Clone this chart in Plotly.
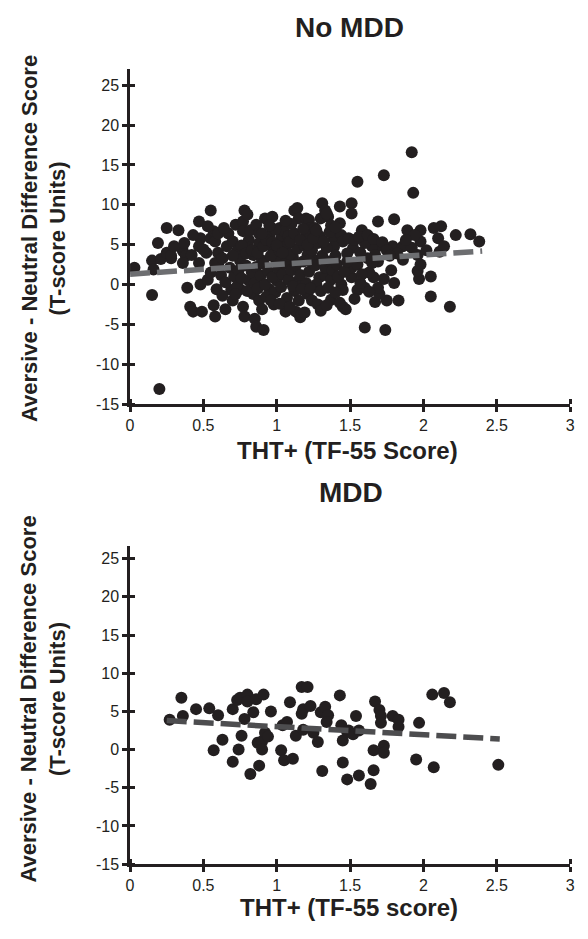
import plotly.graph_objects as go

# ---------------- data ----------------
no_mdd_tht = [
    0.03, 0.15, 0.21, 0.28, 0.16, 0.15, 0.20, 0.25, 0.33, 0.19,
    0.25, 0.28, 0.36, 0.38, 0.42, 0.37, 0.30, 0.48, 0.47, 0.55,
    0.47, 0.52, 0.55, 0.57, 0.58, 0.60, 0.60, 0.60, 0.36, 0.39,
    0.41, 0.43, 0.47, 0.49, 0.48, 0.53, 0.59, 0.58, 0.57, 0.58,
    0.65, 0.70, 0.69, 0.75, 0.77, 0.78, 0.85, 0.86, 0.91, 0.81,
    0.84, 0.88, 0.90, 0.95, 0.98, 1.00, 1.06, 1.13, 1.16, 1.12,
    1.21, 1.24, 1.37, 1.15, 1.44, 1.45, 0.66, 0.67, 0.72, 0.70,
    0.73, 0.75, 0.77, 0.78, 0.80, 0.77, 0.81, 0.82, 0.81, 0.84,
    0.86, 0.88, 0.88, 0.92, 0.94, 0.97, 0.95, 0.98, 1.02, 1.03,
    1.05, 1.07, 1.08, 1.12, 1.14, 1.15, 1.20, 1.22, 1.23, 1.26,
    1.29, 1.30, 1.31, 1.33, 1.35, 1.37, 1.43, 1.43, 1.39, 1.44,
    1.20, 1.11, 1.21, 1.25, 1.05, 1.00, 0.90, 1.92, 1.73, 1.55,
    1.93, 1.51, 1.51, 1.69, 1.80, 1.34, 1.89, 1.98, 2.12, 2.07,
    2.22, 2.32, 2.38, 2.10, 1.98, 1.94, 1.58, 1.69, 1.79, 1.86,
    1.65, 1.60, 1.52, 1.45, 1.39, 2.11, 1.96, 1.86, 1.69, 1.40,
    2.05, 1.97, 1.96, 1.98, 2.05, 2.18, 1.83, 1.75, 1.67, 1.70,
    1.69, 1.73, 1.66, 1.60, 1.74, 1.47, 1.43, 1.28, 1.17, 1.55,
    1.60, 1.57, 1.51, 1.45, 1.63, 1.51, 1.55, 1.65, 1.67, 1.29,
    1.33, 1.37, 1.33, 1.22, 1.20, 1.27, 1.82, 1.62, 1.48, 1.57,
    0.62, 0.65, 0.68, 0.71, 0.73, 0.74, 0.76, 0.79, 0.80, 0.83,
    0.85, 0.86, 0.87, 0.89, 0.91, 0.92, 0.93, 0.94, 0.96, 0.97,
    0.99, 1.01, 1.02, 1.03, 1.04, 1.06, 1.07, 1.08, 1.09, 1.10,
    1.11, 1.13, 1.14, 1.16, 1.17, 1.18, 1.19, 1.22, 1.23, 1.24,
    1.26, 1.28, 1.30, 1.31, 1.34, 1.35, 1.36, 1.38, 1.41, 1.42,
    1.46, 1.48, 1.49, 1.53, 1.56, 0.63, 0.70, 0.76, 0.79, 0.83,
    0.87, 0.91, 0.93, 0.97, 1.00, 1.04, 1.09, 1.12, 1.16, 1.18,
    1.21, 1.25, 1.27, 1.32, 1.36, 1.40, 1.10, 1.06, 0.99, 0.90,
    0.95, 0.64, 0.53, 0.43, 0.50, 1.62, 1.66, 1.72, 1.75, 1.77,
    1.58, 1.53, 1.63, 1.78, 1.80, 1.92, 2.02, 2.14, 1.88, 0.55,
    0.63, 0.72, 0.96, 1.02, 1.09, 1.15, 1.30, 1.34, 1.40, 1.19,
]
no_mdd_diff = [
    2.1, 3.0, 3.2, 3.3, 1.9, -1.3, -13.1, 7.1, 6.8, 5.2,
    4.0, 3.6, 4.2, 3.6, 3.7, 5.2, 4.8, 5.8, 7.9, 9.3,
    4.8, 4.0, 5.8, 6.7, 5.4, 6.4, 4.0, 2.5, 2.7, -0.4,
    -2.8, -3.4, 2.7, -3.4, 0.0, 0.6, -0.6, 2.7, -2.6, -4.0,
    -3.1, -2.0, -0.7, -0.6, -2.8, -4.0, -4.3, -5.3, -5.7, 0.5,
    -1.2, -2.0, -3.1, -0.6, -2.5, 0.5, -3.4, -3.4, -4.1, -0.8,
    -1.2, -2.0, -1.9, 0.5, 0.0, -2.8, 4.8, 6.4, 7.5, 5.4,
    4.2, 3.0, 7.9, 9.3, 8.8, 6.7, 5.6, 6.8, 4.6, 3.7,
    7.5, 6.4, 5.2, 8.3, 8.1, 8.5, 6.1, 4.3, 7.1, 5.8,
    6.7, 5.0, 6.1, 9.3, 9.6, 8.3, 8.3, 8.1, 7.1, 7.1,
    6.1, 8.3, 10.2, 9.3, 8.5, 7.4, 9.8, 7.7, 5.8, 6.2,
    6.1, 3.4, 3.7, 3.1, 3.1, 3.0, 3.0, 16.6, 13.7, 12.9,
    11.5, 10.2, 8.9, 7.9, 8.2, 8.9, 6.8, 6.8, 7.3, 7.1,
    6.2, 6.3, 5.4, 5.8, 5.4, 6.2, 6.8, 4.8, 4.8, 4.8,
    4.8, 5.2, 4.6, 5.4, 4.7, 4.1, 3.7, 3.1, 2.9, 3.6,
    1.0, 0.7, 1.7, 2.5, -1.5, -2.8, -2.0, -2.0, -2.2, -1.2,
    -0.4, 0.7, 0.9, -5.4, -5.7, -3.1, -2.3, -2.5, -3.7, -0.7,
    -0.4, 0.2, 0.9, -0.7, 1.5, 2.1, 2.5, 2.7, 3.7, 0.9,
    1.2, 0.6, 2.1, 3.0, 0.2, 0.0, 3.9, 3.3, 3.9, 4.0,
    1.2, 0.3, 2.1, 1.0, -0.2, 1.8, 0.8, 2.4, -0.8, 1.5,
    0.2, 2.2, -0.5, 1.1, 2.6, 0.0, -1.5, 1.7, 3.6, 0.9,
    -1.0, 2.0, 4.2, -0.3, 1.3, 2.6, -1.7, 0.6, 3.8, 1.8,
    -0.2, 2.4, 4.5, 1.2, -0.6, 2.9, 4.9, 1.6, -0.5, 4.3,
    2.4, 5.2, -0.8, 3.6, 4.6, -0.4, 2.9, 1.8, 2.5, 1.0,
    1.6, 2.9, 5.8, 5.6, 6.0, 3.3, 3.6, 4.9, 3.9, 4.3,
    4.0, 4.8, 5.6, 5.3, 4.9, 4.0, 5.4, 6.4, 5.6, 7.0,
    5.0, 5.8, 6.8, 5.4, 6.6, 7.2, 7.6, 8.0, 6.9, 6.4,
    7.4, 7.1, 7.3, 6.2, 4.4, 6.2, 5.7, 5.3, 4.3, 3.6,
    1.3, -1.8, -0.9, 1.8, 0.2, 4.6, 4.3, 4.8, 5.6, 1.5,
    -1.4, -1.2, -2.0, -2.4, -2.8, -2.0, -3.3, -2.6, -1.0, -3.5,
]

mdd_tht = [
    0.27, 0.35, 0.36, 0.45, 0.54, 0.60, 0.57, 0.63, 0.70, 0.70,
    0.73, 0.75, 0.80, 0.80, 0.86, 0.91, 0.84, 0.78, 0.76, 0.74,
    0.82, 0.88, 0.87, 0.90, 0.92, 0.94, 0.90, 0.96, 1.03, 1.05,
    1.11, 1.04, 1.07, 1.09, 1.13, 1.17, 1.18, 1.17, 1.21, 1.23,
    1.18, 1.25, 1.28, 1.31, 1.30, 1.33, 1.35, 1.34, 1.43, 1.44,
    1.45, 1.45, 1.48, 1.48, 1.54, 1.67, 1.70, 1.71, 1.71, 1.79,
    1.83, 1.83, 1.97, 2.06, 2.14, 2.18, 1.49, 1.52, 1.56, 1.66,
    1.73, 1.73, 1.56, 1.66, 1.64, 1.95, 2.07, 2.51,
]
mdd_diff = [
    3.9, 6.8, 4.4, 5.3, 5.4, 4.5, -0.1, 1.3, 5.3, -1.6,
    6.5, 6.8, 7.2, 6.3, 6.6, 7.2, 4.9, 4.0, 1.8, 0.0,
    -3.2, -2.1, 0.9, 1.1, 2.2, 1.7, 0.0, 5.0, -0.1, -1.4,
    -1.2, 3.2, 3.6, 6.2, 1.8, 4.7, 5.3, 8.2, 8.2, 5.7,
    2.6, 2.2, 1.0, -2.8, 4.9, 5.6, 4.5, 3.6, 7.1, 3.2,
    1.2, -1.7, -3.9, 2.3, 4.4, 6.3, 5.2, 4.4, 3.5, 4.4,
    3.9, 3.0, 3.5, 7.2, 7.4, 6.2, 2.5, 2.0, 2.5, -0.1,
    0.5, -0.4, -3.4, -2.7, -4.5, -1.3, -2.3, -2.0,
]

# fitted trend lines (end points)
no_mdd_trend_x = [0.0, 2.4]
no_mdd_trend_y = [1.3, 4.2]
mdd_trend_x = [0.25, 2.52]
mdd_trend_y = [3.8, 1.4]

x_tick_vals = [0, 0.5, 1, 1.5, 2, 2.5, 3]
x_tick_text = ["0", "0.5", "1", "1.5", "2", "2.5", "3"]
y_tick_vals = [-15, -10, -5, 0, 5, 10, 15, 20, 25]
y_tick_text = ["-15", "-10", "-5", "0", "5", "10", "15", "20", "25"]
panel_titles = ["No MDD", "MDD"]
x_titles = ["THT+ (TF-55 Score)", "THT+ (TF-55 score)"]
y_title_lines = ["Aversive - Neutral Difference Score", "(T-score Units)"]

# ---------------- styling / layout ----------------
W, H = 588, 939
INK = "#231f20"
FONT = "Liberation Sans, Arial, Helvetica, sans-serif"


def fx(p):
    return p / W


def fy(p):
    return (H - p) / H


x_dom = [fx(128), fx(575)]
top_dom = [fy(408), fy(70)]
bot_dom = [fy(872.5), fy(551)]

fig = go.Figure()

marker = dict(size=12, color=INK)

fig.add_trace(go.Scatter(x=no_mdd_tht, y=no_mdd_diff, mode="markers", marker=marker,
                         xaxis="x", yaxis="y", showlegend=False))
fig.add_trace(go.Scatter(x=no_mdd_trend_x, y=no_mdd_trend_y, mode="lines",
                         line=dict(color="#6d6e71", width=5.5, dash="20px,7px"),
                         xaxis="x", yaxis="y", showlegend=False))
fig.add_trace(go.Scatter(x=mdd_tht, y=mdd_diff, mode="markers", marker=marker,
                         xaxis="x2", yaxis="y2", showlegend=False))
fig.add_trace(go.Scatter(x=mdd_trend_x, y=mdd_trend_y, mode="lines",
                         line=dict(color="#4d4d4f", width=5.5, dash="20px,7px"),
                         xaxis="x2", yaxis="y2", showlegend=False))

tick_font = dict(family=FONT, size=16, color=INK)


def main_x(anchor):
    return dict(domain=x_dom, range=[0, 3], anchor=anchor, showline=True, linecolor=INK,
                linewidth=2.5, ticks="outside", ticklen=5, tickwidth=2.5, tickcolor=INK,
                tickvals=x_tick_vals, ticktext=x_tick_text, tickfont=tick_font,
                minor=dict(ticks="inside", tickvals=x_tick_vals, ticklen=5, tickwidth=2.5,
                           tickcolor=INK),
                showgrid=False, zeroline=False)


def main_y(anchor, dom, rng):
    return dict(domain=dom, range=list(rng), anchor=anchor, showline=True, linecolor=INK,
                linewidth=2.5, ticks="outside", ticklen=5, tickwidth=2.5, tickcolor=INK,
                tickvals=y_tick_vals, ticktext=y_tick_text, tickfont=tick_font,
                minor=dict(ticks="inside", tickvals=y_tick_vals, ticklen=5, tickwidth=2.5,
                           tickcolor=INK),
                showgrid=False, zeroline=False)


top_rng = (-15, 27)
bot_rng = (-15, 26.7)

fig.update_layout(
    width=W, height=H, autosize=False,
    margin=dict(l=0, r=0, t=0, b=0, pad=0),
    paper_bgcolor="white", plot_bgcolor="white",
    showlegend=False,
    xaxis=main_x("y"),
    yaxis=main_y("x", top_dom, top_rng),
    xaxis2=main_x("y2"),
    yaxis2=main_y("x2", bot_dom, bot_rng),
)

ann = []
title_font = dict(family=FONT, size=28, color=INK)
xt_font = dict(family=FONT, size=24, color=INK)
yt_font = dict(family=FONT, size=22, color=INK)

ann.append(dict(text="<b>%s</b>" % panel_titles[0], x=fx(351), y=fy(28), xref="paper", yref="paper",
                xanchor="center", yanchor="middle", showarrow=False, font=title_font))
ann.append(dict(text="<b>%s</b>" % panel_titles[1], x=fx(352), y=fy(497), xref="paper", yref="paper",
                xanchor="center", yanchor="middle", showarrow=False, font=title_font))
ann.append(dict(text="<b>%s</b>" % x_titles[0], x=fx(349), y=fy(455), xref="paper", yref="paper",
                xanchor="center", yanchor="middle", showarrow=False, font=xt_font))
ann.append(dict(text="<b>%s</b>" % x_titles[1], x=fx(350), y=fy(916), xref="paper", yref="paper",
                xanchor="center", yanchor="middle", showarrow=False, font=xt_font))
ytext = "<b>%s</b><br><b>%s</b>" % (y_title_lines[0], y_title_lines[1])
ann.append(dict(text=ytext, x=fx(40), y=fy(241), xref="paper", yref="paper", textangle=-90,
                xanchor="center", yanchor="middle", showarrow=False, font=yt_font))
ann.append(dict(text=ytext, x=fx(40), y=fy(706), xref="paper", yref="paper", textangle=-90,
                xanchor="center", yanchor="middle", showarrow=False, font=yt_font))
fig.update_layout(annotations=ann)

fig.write_html("out.html", config={"displayModeBar": False},
               post_script="document.body.style.margin='0';")
